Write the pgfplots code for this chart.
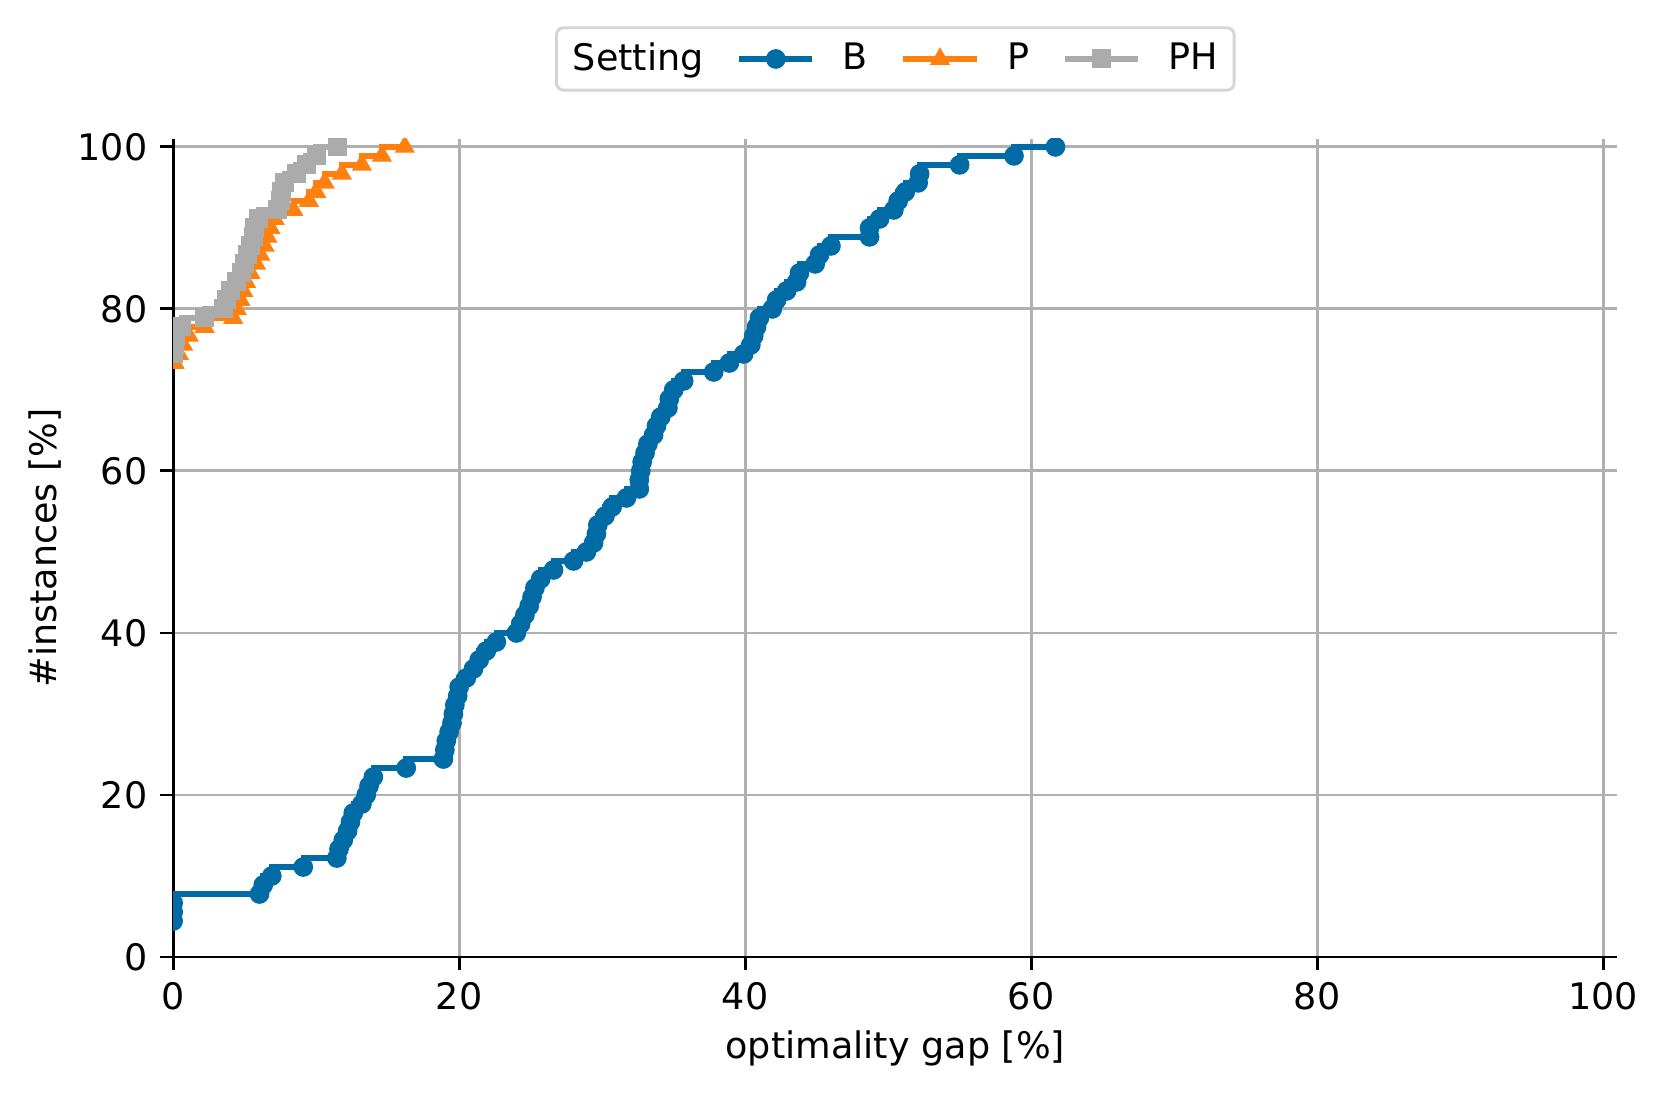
\documentclass[border=0pt]{standalone}
\usepackage{fontspec}
\setmainfont{DejaVu Sans}
\usepackage{pgfplots}
\pgfplotsset{compat=1.18}
\definecolor{cB}{HTML}{006BA4}
\definecolor{cP}{HTML}{FF800E}
\definecolor{cPH}{HTML}{ABABAB}
\definecolor{gridgray}{HTML}{B0B0B0}
\definecolor{legframe}{HTML}{D5D5D5}

\begin{document}
\begin{tikzpicture}
\path[use as bounding box] (-47.4pt,-38.05pt) rectangle (407.6pt,262pt);
\begin{axis}[
  scale only axis, width=395.4pt, height=224pt,
  xmin=0, xmax=101, ymin=0, ymax=101,
  xtick={0,20,...,100}, ytick={0,20,...,100},
  axis x line*=bottom, axis y line*=left,
  axis line style={-, line width=0.8pt},
  tick align=outside, major tick length=3.5pt,
  tick style={line width=0.8pt, black},
  grid=major, grid style={gridgray, line width=0.8pt},
  /pgf/number format/assume math mode=true,
  clip marker paths=true,
  xlabel={optimality gap [\%]},
  ylabel={\#instances [\%]},
  xlabel style={at={(axis description cs:0.5,-0.1116)}, anchor=center},
  ylabel style={at={(axis description cs:-0.0885,0.5)}, anchor=center},
  legend columns=4,
  legend image code/.code={
    \draw[sharp plot, mark repeat=2, mark phase=2] plot coordinates {(0pt,0pt) (10pt,0pt) (20pt,0pt)};
  },
  legend style={
    at={(axis description cs:0.5,1.0576)}, anchor=south,
    draw=legframe, line width=0.8pt, rounded corners=2pt, fill=white,
    inner xsep=4.5pt, inner ysep=4pt,
    nodes={inner sep=0pt},
    /tikz/every odd column/.append style={column sep=7.6pt},
    /tikz/every even column/.append style={column sep=9pt},
  },
  every axis plot/.append style={const plot mark right, line width=1.5pt},
]

\addlegendimage{empty legend}
\addlegendentry{\hspace{-7.6pt}Setting}

% B
\addplot[color=cB, mark=*, mark size=2.5pt, mark options={line width=0.4pt}] coordinates {
(0,4.44) (0,5.56) (0,6.67) (6.04,7.78) (6.3,8.89) (6.9,10.00) (9.1,11.11)
(11.45,12.22) (11.6,13.33) (11.9,14.44) (12.2,15.56) (12.4,16.67) (12.6,17.78)
(13.2,18.89) (13.5,20.00) (13.7,21.11) (14.0,22.22) (16.3,23.33) (18.9,24.44)
(19.0,25.56) (19.1,26.67) (19.3,27.78) (19.5,28.89) (19.6,30.00) (19.7,31.11)
(19.9,32.22) (20.0,33.33) (20.5,34.44) (21.0,35.56) (21.4,36.67) (21.9,37.78)
(22.6,38.89) (24.0,40.00) (24.3,41.11) (24.6,42.22) (24.9,43.33) (25.1,44.44)
(25.3,45.56) (25.7,46.67) (26.6,47.78) (28.0,48.89) (28.9,50.00) (29.4,51.11)
(29.6,52.22) (29.7,53.33) (30.2,54.44) (30.7,55.56) (31.7,56.67) (32.6,57.78)
(32.6,58.89) (32.7,60.00) (32.8,61.11) (33.0,62.22) (33.2,63.33) (33.6,64.44)
(33.8,65.56) (34.1,66.67) (34.6,67.78) (34.7,68.89) (35.0,70.00) (35.7,71.11)
(37.8,72.22) (38.9,73.33) (39.9,74.44) (40.4,75.56) (40.6,76.67) (40.8,77.78)
(41.0,78.89) (41.9,80.00) (42.2,81.11) (42.9,82.22) (43.6,83.33) (43.8,84.44)
(44.9,85.56) (45.2,86.67) (46.0,87.78) (48.7,88.89) (48.7,90.00) (49.4,91.11)
(50.4,92.22) (50.7,93.33) (51.2,94.44) (52.1,95.56) (52.2,96.67) (55.0,97.78)
(58.8,98.89) (61.7,100.00)
};
\addlegendentry{B}

% P
\addplot[color=cP, mark=triangle*, mark size=2.8pt, mark options={line width=0.4pt}] coordinates {
(0.1,73.33) (0.4,74.44) (0.7,75.56) (1.1,76.67) (2.2,77.78) (4.2,78.89)
(4.45,80.00) (4.7,81.11) (4.9,82.22) (5.1,83.33) (5.4,84.44) (5.8,85.56)
(6.1,86.67) (6.4,87.78) (6.6,88.89) (6.8,90.00) (7.1,91.11) (8.4,92.22)
(9.5,93.33) (10.0,94.44) (10.6,95.56) (11.8,96.67) (13.2,97.78) (14.6,98.89)
(16.2,100.00)
};
\addlegendentry{P}

% PH
\addplot[color=cPH, mark=square*, mark size=2.4pt, mark options={line width=0.4pt}] coordinates {
(0.0,74.44) (0.1,75.56) (0.2,76.67) (0.6,77.78) (2.2,78.89) (3.5,80.00)
(3.7,81.11) (4.0,82.22) (4.4,83.33) (4.8,84.44) (5.0,85.56) (5.2,86.67)
(5.4,87.78) (5.6,88.89) (5.7,90.00) (6.0,91.11) (7.3,92.22) (7.5,93.33)
(7.6,94.44) (7.8,95.56) (8.6,96.67) (9.3,97.78) (10.0,98.89) (11.5,100.00)
};
\addlegendentry{PH}
\end{axis}
\end{tikzpicture}
\end{document}
